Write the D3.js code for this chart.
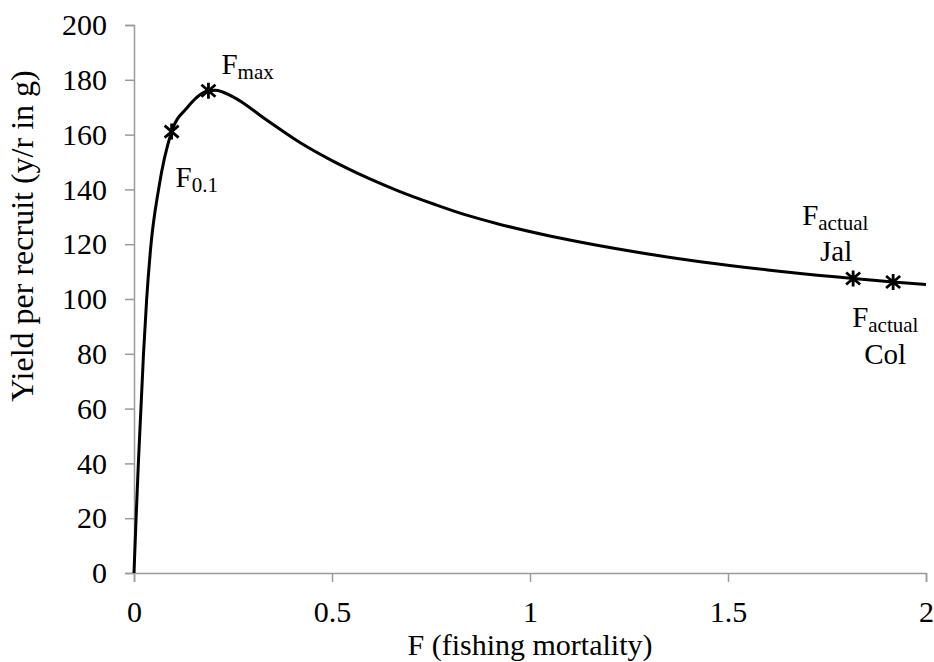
<!DOCTYPE html>
<html>
<head>
<meta charset="utf-8">
<script src="https://cdn.jsdelivr.net/npm/d3@7"></script>
<style>
  body { margin: 0; background: #fff; }
  text { font-family: "Liberation Serif", "Times New Roman", serif; fill: #000; }
</style>
</head>
<body>
<div id="chart"></div>
<script>
// yield per recruit curve
var fValues = [0, 0.005, 0.011, 0.024, 0.032, 0.043, 0.062, 0.095, 0.133, 0.188, 0.205, 0.25, 0.335, 0.42, 0.5, 0.59, 0.67, 0.76, 0.84, 0.92, 1.05, 1.1, 1.26, 1.43, 1.6, 1.77, 1.816, 1.917, 2.0];
var yprValues = [0, 19, 40, 80, 100, 120, 140, 161.1, 169.6, 176.0, 176.2, 173.8, 165.3, 157.0, 150.5, 144.2, 139.3, 134.5, 130.6, 127.4, 123.0, 121.5, 117.3, 113.6, 110.6, 108.1, 107.5, 106.2, 105.3];

// reference points
var markerNames = ["F0.1", "Fmax", "Jal", "Col"];
var markerF = [0.095, 0.188, 1.816, 1.917];
var markerY = [161.1, 176.0, 107.5, 106.2];

var xTicks = [0, 0.5, 1, 1.5, 2];
var yTicks = [0, 20, 40, 60, 80, 100, 120, 140, 160, 180, 200];

var margin = {top: 25, right: 8, bottom: 89, left: 134},
    width = 934 - margin.left - margin.right,
    height = 662 - margin.top - margin.bottom;

var svg = d3.select("#chart")
  .append("svg")
    .attr("width", width + margin.left + margin.right)
    .attr("height", height + margin.top + margin.bottom)
  .append("g")
    .attr("transform", "translate(" + margin.left + "," + margin.top + ")");

var data = fValues.map(function(f, i) { return {f: f, y: yprValues[i]}; });

var x = d3.scaleLinear().domain([0, 2]).range([0, width]);
var y = d3.scaleLinear().domain([0, 200]).range([height, 0]);

var xAxis = svg.append("g")
  .attr("transform", "translate(0," + height + ")")
  .call(d3.axisBottom(x).tickValues(xTicks).tickFormat(d3.format("")).tickSize(9).tickPadding(19));

var yAxis = svg.append("g")
  .call(d3.axisLeft(y).tickValues(yTicks).tickSize(9).tickPadding(18));

[xAxis, yAxis].forEach(function(a) {
  a.attr("font-family", null);
  a.select(".domain").attr("stroke", "#9a9a9a").attr("stroke-width", 1.5);
  a.selectAll(".tick line").attr("stroke", "#9a9a9a").attr("stroke-width", 1.5);
  a.selectAll(".tick text")
    .style("font-family", "'Liberation Serif', 'Times New Roman', serif")
    .style("font-size", "30px")
    .attr("fill", "#000");
});

svg.append("text")
  .attr("transform", "rotate(-90)")
  .attr("x", -211)
  .attr("y", -101)
  .style("text-anchor", "middle")
  .style("font-size", "32px")
  .text("Yield per recruit (y/r in g)");

svg.append("text")
  .attr("x", width / 2)
  .attr("y", height + 82)
  .style("text-anchor", "middle")
  .style("font-size", "30px")
  .text("F (fishing mortality)");

svg.append("path")
  .datum(data)
  .attr("fill", "none")
  .attr("stroke", "#000")
  .attr("stroke-width", 3)
  .attr("d", d3.line()
    .curve(d3.curveMonotoneX)
    .x(function(d) { return x(d.f); })
    .y(function(d) { return y(d.y); }));

// star markers (x with vertical bar)
var star = "M0,-8L0,8M-7,-6L7,6M-7,6L7,-6";
markerF.forEach(function(f, i) {
  svg.append("path")
    .attr("transform", "translate(" + x(f) + "," + y(markerY[i]) + ")")
    .attr("d", star)
    .attr("stroke", "#000")
    .attr("stroke-width", 2.8)
    .attr("fill", "none");
});

function subLabel(px, py, sub) {
  var t = svg.append("text")
    .attr("x", px)
    .attr("y", py)
    .style("font-size", "29px");
  t.append("tspan").text("F");
  t.append("tspan").attr("dy", 5).style("font-size", "21px").text(sub);
  return t;
}

// F0.1
subLabel(x(markerF[0]) + 4, y(markerY[0]) + 55, "0.1");
// Fmax
subLabel(x(markerF[1]) + 13, y(markerY[1]) - 17, "max");
// Jal
subLabel(x(markerF[2]) - 51, y(markerY[2]) - 53, "actual");
svg.append("text")
  .attr("x", x(markerF[2]) - 17)
  .attr("y", y(markerY[2]) - 17)
  .style("text-anchor", "middle")
  .style("font-size", "29px")
  .text(markerNames[2]);
// Col
subLabel(x(markerF[3]) - 41, y(markerY[3]) + 45, "actual");
svg.append("text")
  .attr("x", x(markerF[3]) - 8)
  .attr("y", y(markerY[3]) + 82)
  .style("text-anchor", "middle")
  .style("font-size", "29px")
  .text(markerNames[3]);
</script>
</body>
</html>
